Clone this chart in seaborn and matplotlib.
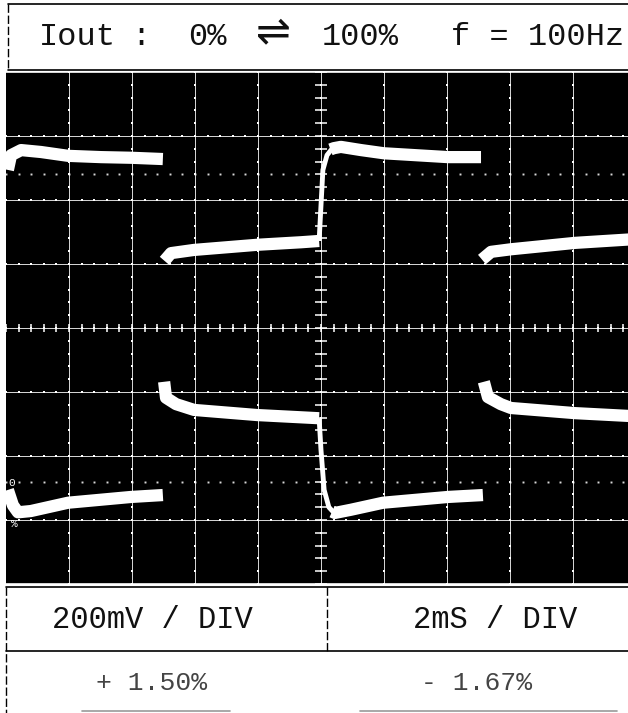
import numpy as np
import pandas as pd
import matplotlib
matplotlib.use('Agg')
import matplotlib.pyplot as plt
import seaborn as sns
from matplotlib.lines import Line2D

# labels on the print-out
title_parts = ['Iout', ':', '0%', '⇌', '100%', 'f = 100Hz']
volt_div = '200mV / DIV'
time_div = '2mS / DIV'
dev_rise = '+ 1.50%'
dev_fall = '- 1.67%'

# upper trace: time in ms (2 ms/div), level in divisions
up_t1 = [0.06, 0.16, 0.48, 1.11, 1.97, 3.02, 3.97, 4.98]
up_v1 = [2.47, 2.70, 2.78, 2.75, 2.69, 2.67, 2.66, 2.64]
up_t2 = [5.03, 5.24, 5.97, 7.97, 9.37, 9.94]
up_v2 = [1.05, 1.17, 1.22, 1.30, 1.34, 1.36]
up_edge_t = [9.94, 10.0, 10.06, 10.19, 10.35]
up_edge_v = [1.36, 1.92, 2.47, 2.70, 2.80]
up_t3 = [10.30, 10.41, 10.63, 11.27, 12.0, 14.03, 15.08]
up_v3 = [2.79, 2.81, 2.83, 2.78, 2.73, 2.67, 2.67]
up_t4 = [15.11, 15.40, 16.03, 18.06, 20.0]
up_v4 = [1.07, 1.19, 1.23, 1.33, 1.39]

# lower trace
lo_t1 = [0.06, 0.22, 0.38, 0.79, 1.97, 3.97, 4.98]
lo_v1 = [-2.53, -2.77, -2.88, -2.86, -2.73, -2.64, -2.61]
lo_t2 = [5.02, 5.08, 5.40, 5.97, 7.97, 9.94]
lo_v2 = [-0.84, -1.09, -1.19, -1.28, -1.36, -1.41]
lo_edge_t = [9.94, 10.0, 10.10, 10.25, 10.40]
lo_edge_v = [-1.41, -1.91, -2.53, -2.80, -2.88]
lo_t3 = [10.35, 10.44, 10.95, 11.97, 14.03, 15.14]
lo_v3 = [-2.87, -2.89, -2.84, -2.73, -2.64, -2.61]
lo_t4 = [15.17, 15.30, 15.71, 16.03, 18.06, 20.0]
lo_v4 = [-0.84, -1.08, -1.19, -1.25, -1.33, -1.38]

ref_levels = [2.4, -2.4]   # dotted 0% / 100% lines

pieces = [('up1', up_t1, up_v1, 'flat'), ('up2', up_t2, up_v2, 'flat'),
          ('up_e', up_edge_t, up_edge_v, 'edge'), ('up3', up_t3, up_v3, 'flat'),
          ('up4', up_t4, up_v4, 'flat'),
          ('lo1', lo_t1, lo_v1, 'flat'), ('lo2', lo_t2, lo_v2, 'flat'),
          ('lo_e', lo_edge_t, lo_edge_v, 'edge'), ('lo3', lo_t3, lo_v3, 'flat'),
          ('lo4', lo_t4, lo_v4, 'flat')]
traces = pd.concat([pd.DataFrame({'t': t, 'v': v, 'seg': name, 'kind': k})
                    for name, t, v, k in pieces])

sns.set_theme(style='white')
plt.rcParams['font.family'] = ['Liberation Mono', 'DejaVu Sans']

W, H = 628, 713
fig = plt.figure(figsize=(W / 100, H / 100), dpi=100)
fig.patch.set_facecolor('white')


def fx(px):
    return px / W


def fy(py):
    return 1 - py / H


# scope screen
ax = fig.add_axes([fx(6), fy(584), 630 / W, 512 / H])
ax.set_facecolor('black')
ax.set_xlim(0, 20)
ax.set_ylim(-4, 4)
ax.set_xticks([])
ax.set_yticks([])
for s in ['left', 'right']:
    ax.spines[s].set_visible(False)
for s in ['top', 'bottom']:
    ax.spines[s].set_color('white')
    ax.spines[s].set_linewidth(1.2)

gx = np.arange(2, 20, 2)
gy = np.arange(-3, 4, 1)
for x in gx:
    ax.axvline(x, color='white', lw=0.7, alpha=0.85, zorder=1)
for y in gy:
    ax.axhline(y, color='white', lw=0.7, alpha=0.85, zorder=1)

sub_x = np.arange(0, 20.01, 0.4)
sub_y = np.arange(-4, 4.01, 0.2)
for x in gx:
    ax.plot(np.full_like(sub_y, x), sub_y, ls='none', marker='s', ms=1.7, mew=0, color='white', zorder=1)
for y in gy:
    ax.plot(sub_x, np.full_like(sub_x, y), ls='none', marker='s', ms=1.7, mew=0, color='white', zorder=1)
for y in ref_levels:
    ax.plot(sub_x, np.full_like(sub_x, y), ls='none', marker='s', ms=1.4, mew=0, color='white',
            alpha=0.85, zorder=1)

# centre axes with fine ticks
ax.plot(np.full_like(sub_y, 10), sub_y, ls='none', marker='_', ms=8, mew=1.1, color='white', zorder=1)
ax.plot(sub_x, np.zeros_like(sub_x), ls='none', marker='|', ms=6, mew=1.1, color='white', zorder=1)

sns.lineplot(data=traces, x='t', y='v', units='seg', estimator=None, sort=False,
             size='kind', sizes={'flat': 8.8, 'edge': 3.5},
             color='white', solid_capstyle='butt', solid_joinstyle='round',
             legend=False, ax=ax, zorder=3)
ax.set_xlabel('')
ax.set_ylabel('')

ax.text(0.17, -2.42, '0', color='white', fontsize=8, ha='center', va='center')
ax.text(0.27, -3.06, '%', color='white', fontsize=8, ha='center', va='center')


def hline(x0, x1, y, **kw):
    fig.add_artist(Line2D([fx(x0), fx(x1)], [fy(y), fy(y)], transform=fig.transFigure, **kw))


def vline(x, y0, y1, **kw):
    fig.add_artist(Line2D([fx(x), fx(x)], [fy(y0), fy(y1)], transform=fig.transFigure, **kw))


# header box
hline(8, 628, 4, color='black', lw=1.2)
hline(8, 628, 70, color='black', lw=1.2)
vline(8, 4, 70, color='black', lw=1.0, ls=(0, (6, 2)))

hdr = dict(fontsize=23, color='#111111', va='baseline', ha='left')
fig.text(fx(39), fy(45), title_parts[0], **hdr)
fig.text(fx(131), fy(45), title_parts[1], **hdr)
fig.text(fx(188), fy(45), title_parts[2], **hdr)
fig.text(fx(273), fy(44), title_parts[3], fontsize=30, color='#111111', va='baseline', ha='center',
         family='DejaVu Sans')
fig.text(fx(322), fy(45), title_parts[4], **hdr)
fig.text(fx(451), fy(45), title_parts[5], **hdr)

# bottom boxes
hline(6, 628, 587, color='black', lw=1.2)
hline(6, 628, 651, color='black', lw=1.2)
vline(6, 587, 713, color='black', lw=1.0, ls=(0, (6, 2)))
vline(327, 587, 651, color='black', lw=1.0, ls=(0, (6, 2)))
hline(82, 230, 711, color='#999999', lw=1.2)
hline(360, 617, 711, color='#999999', lw=1.2)

fig.text(fx(152), fy(628), volt_div, fontsize=22, color='#111111', ha='center', va='baseline')
fig.text(fx(495), fy(628), time_div, fontsize=22, color='#111111', ha='center', va='baseline')
fig.text(fx(152), fy(690), dev_rise, fontsize=19, color='#444444', ha='center', va='baseline')
fig.text(fx(477), fy(690), dev_fall, fontsize=19, color='#444444', ha='center', va='baseline')

fig.savefig('out.png', dpi=100)
